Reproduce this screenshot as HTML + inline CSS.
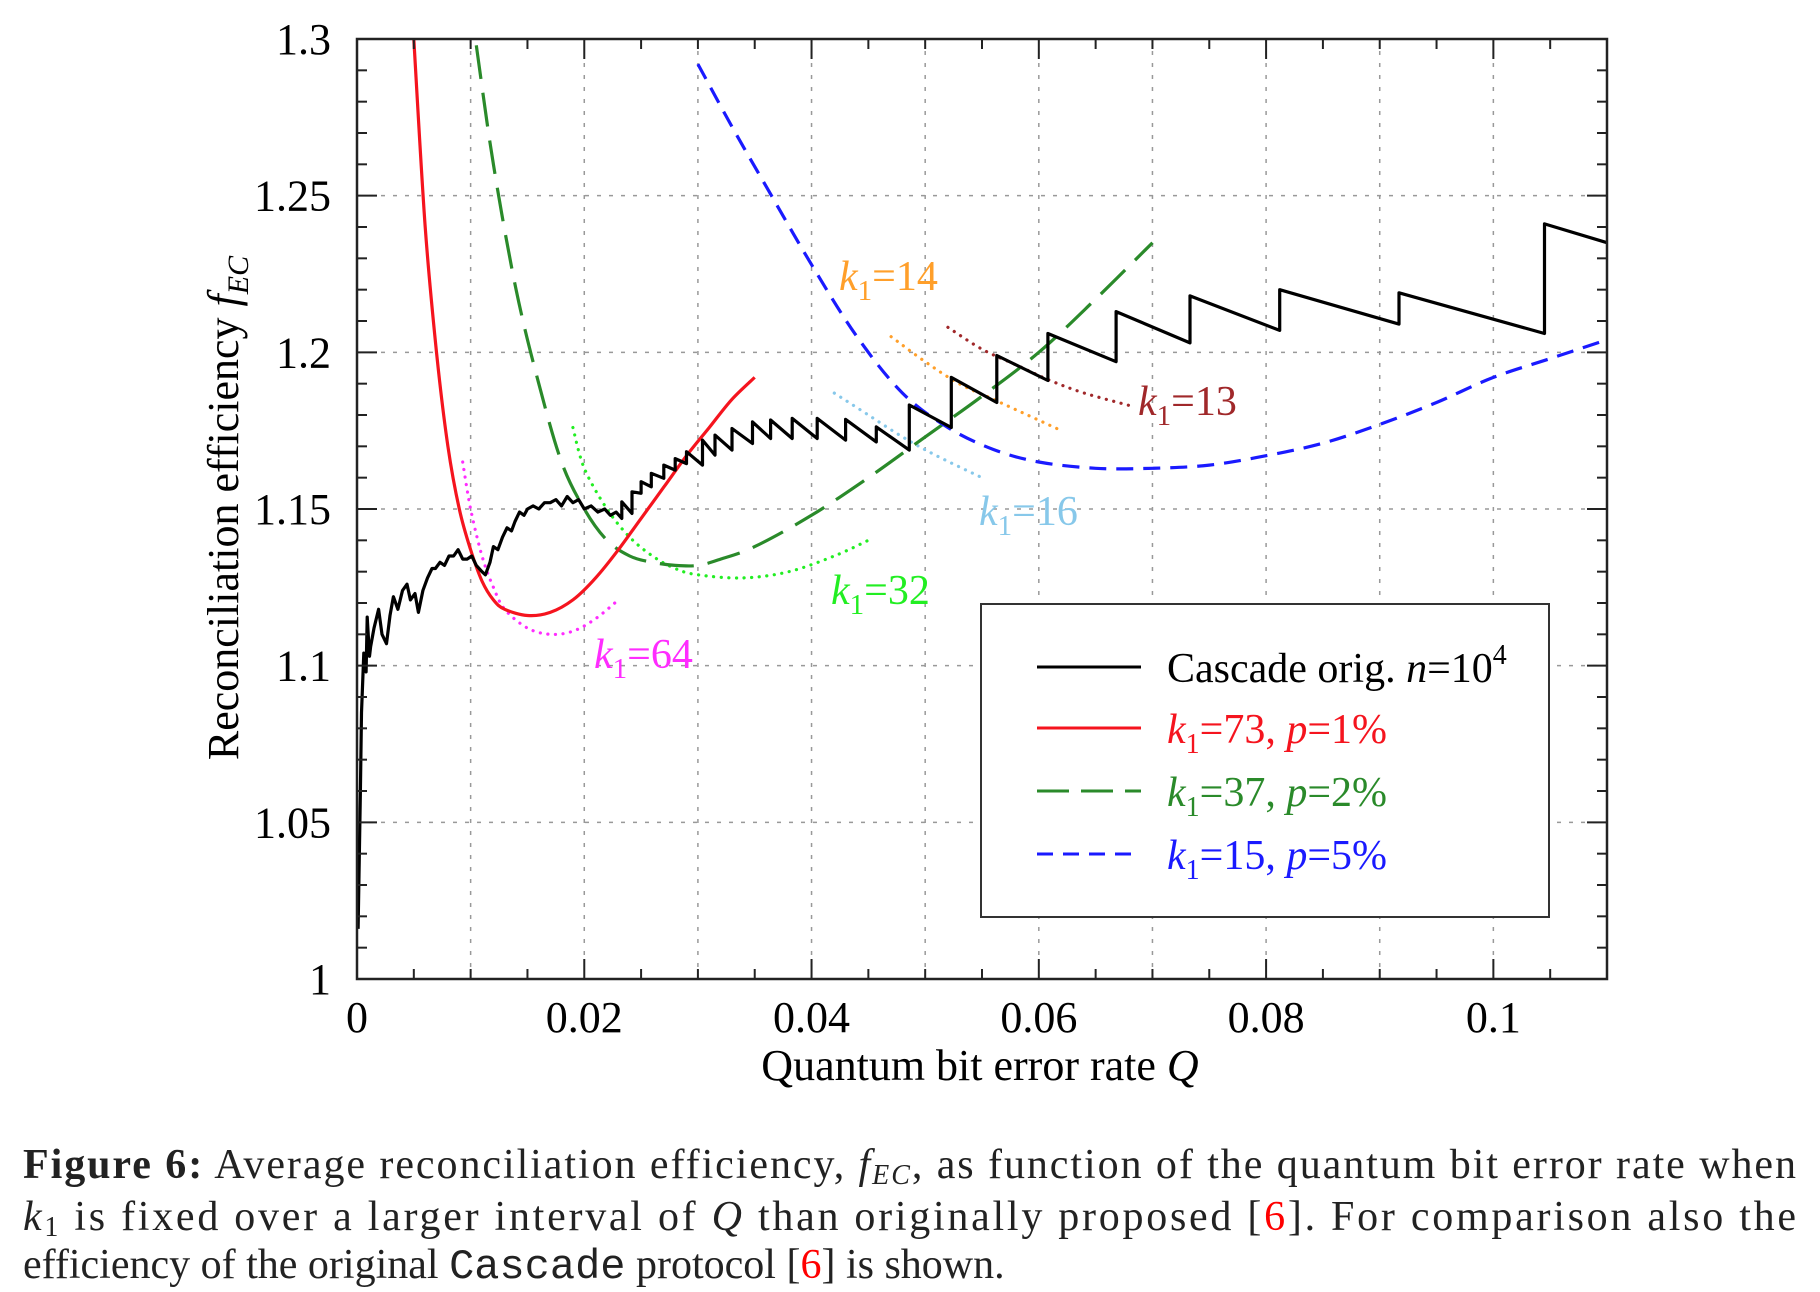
<!DOCTYPE html>
<html><head><meta charset="utf-8"><style>
html,body{margin:0;padding:0;background:#fff;}
svg{display:block;}
text{font-family:"Liberation Serif",serif;}
</style></head><body>
<svg id="chart" width="1820" height="1292" viewBox="0 0 1820 1292" xmlns="http://www.w3.org/2000/svg">
<g id="grid"></g>
<g id="series"></g>
<g id="axes"></g>
<g id="labels" font-size="42">
<text x="839" y="290" fill="#ff9f2a"><tspan font-style="italic">k</tspan><tspan font-size="29" dy="10">1</tspan><tspan dy="-10">=14</tspan></text>
<text x="1138" y="415" fill="#a0282a"><tspan font-style="italic">k</tspan><tspan font-size="29" dy="10">1</tspan><tspan dy="-10">=13</tspan></text>
<text x="979" y="525" fill="#87c8ea"><tspan font-style="italic">k</tspan><tspan font-size="29" dy="10">1</tspan><tspan dy="-10">=16</tspan></text>
<text x="831" y="604" fill="#22ee22"><tspan font-style="italic">k</tspan><tspan font-size="29" dy="10">1</tspan><tspan dy="-10">=32</tspan></text>
<text x="594" y="668" fill="#ff2cff"><tspan font-style="italic">k</tspan><tspan font-size="29" dy="10">1</tspan><tspan dy="-10">=64</tspan></text>
</g>
<g id="legend">
<rect x="981" y="604" width="568" height="313" fill="#fff" stroke="#333" stroke-width="2"/>
<line x1="1037" y1="667" x2="1141" y2="667" stroke="#000" stroke-width="3"/>
<line x1="1037" y1="728" x2="1141" y2="728" stroke="#f5141e" stroke-width="3"/>
<line x1="1037" y1="791" x2="1141" y2="791" stroke="#2a8a2a" stroke-width="3" stroke-dasharray="32,12"/>
<line x1="1037" y1="854" x2="1141" y2="854" stroke="#1a1aff" stroke-width="3" stroke-dasharray="16,10"/>
<text x="1167" y="682" font-size="42" fill="#000">Cascade orig. <tspan font-style="italic">n</tspan>=10<tspan font-size="28" dy="-18">4</tspan></text>
<text x="1167" y="743" font-size="42" fill="#f5141e"><tspan font-style="italic">k</tspan><tspan font-size="28" dy="10">1</tspan><tspan dy="-10">=73, </tspan><tspan font-style="italic">p</tspan>=1%</text>
<text x="1167" y="806" font-size="42" fill="#2a8a2a"><tspan font-style="italic">k</tspan><tspan font-size="28" dy="10">1</tspan><tspan dy="-10">=37, </tspan><tspan font-style="italic">p</tspan>=2%</text>
<text x="1167" y="869" font-size="42" fill="#1a1aff"><tspan font-style="italic">k</tspan><tspan font-size="28" dy="10">1</tspan><tspan dy="-10">=15, </tspan><tspan font-style="italic">p</tspan>=5%</text>
</g>
<text x="980" y="1080" font-size="44" text-anchor="middle">Quantum bit error rate <tspan font-style="italic">Q</tspan></text>
<text transform="translate(238,508) rotate(-90)" font-size="44" text-anchor="middle">Reconciliation efficiency <tspan font-style="italic">f</tspan><tspan font-style="italic" font-size="30" dy="10">EC</tspan></text>
<g font-size="42" fill="#222">
<text x="23" y="1178" textLength="1773" lengthAdjust="spacing"><tspan font-weight="bold">Figure 6:</tspan> Average reconciliation efficiency, <tspan font-style="italic">f</tspan><tspan font-style="italic" font-size="28" dy="6">EC</tspan><tspan dy="-6">, as function of the quantum bit error rate when</tspan></text>
<text x="23" y="1230" textLength="1773" lengthAdjust="spacing"><tspan font-style="italic">k</tspan><tspan font-size="28" dy="6">1</tspan><tspan dy="-6"> is fixed over a larger interval of </tspan><tspan font-style="italic">Q</tspan> than originally proposed [<tspan fill="#f00">6</tspan>].  For comparison also the</text>
<text x="23" y="1278">efficiency of the original <tspan font-family="Liberation Mono, monospace">Cascade</tspan> protocol [<tspan fill="#f00">6</tspan>] is shown.</text>
</g>
</svg>
<script>
// ---- data ----
const xTicks = [0, 0.02, 0.04, 0.06, 0.08, 0.1];
const xTickLabels = ["0", "0.02", "0.04", "0.06", "0.08", "0.1"];
const yTicks = [1, 1.05, 1.1, 1.15, 1.2, 1.25, 1.3];
const yTickLabels = ["1", "1.05", "1.1", "1.15", "1.2", "1.25", "1.3"];

const redQ = [0.005,0.006,0.007,0.008,0.009,0.010,0.011,0.012,0.013,0.015,0.017,0.019,0.021,0.023,0.025,0.027,0.029,0.031,0.033,0.035];
const redV = [1.3,1.24,1.2,1.17,1.15,1.137,1.127,1.121,1.118,1.116,1.117,1.121,1.128,1.137,1.147,1.157,1.167,1.176,1.185,1.192];
const greenQ = [0.0105,0.012,0.014,0.016,0.018,0.020,0.022,0.024,0.026,0.028,0.030,0.032,0.035,0.040,0.045,0.050,0.055,0.060,0.065,0.070];
const greenV = [1.298,1.26,1.22,1.19,1.165,1.150,1.140,1.135,1.133,1.132,1.132,1.134,1.138,1.148,1.160,1.173,1.186,1.200,1.217,1.235];
const blueQ = [0.030,0.033,0.036,0.040,0.044,0.048,0.052,0.056,0.060,0.065,0.070,0.075,0.080,0.085,0.090,0.095,0.100,0.105,0.110];
const blueV = [1.292,1.272,1.253,1.228,1.205,1.187,1.176,1.169,1.165,1.163,1.163,1.164,1.167,1.171,1.177,1.184,1.192,1.198,1.204];
const magQ = [0.0093,0.010,0.011,0.012,0.013,0.015,0.017,0.019,0.021,0.023];
const magV = [1.165,1.15,1.135,1.125,1.118,1.112,1.110,1.111,1.115,1.121];
const limeQ = [0.019,0.020,0.022,0.024,0.026,0.028,0.030,0.034,0.038,0.042,0.045];
const limeV = [1.176,1.163,1.150,1.141,1.135,1.131,1.129,1.128,1.130,1.135,1.140];
const lblueQ = [0.042,0.045,0.048,0.051,0.055];
const lblueV = [1.187,1.180,1.173,1.167,1.160];
const orangeQ = [0.047,0.050,0.053,0.056,0.059,0.062];
const orangeV = [1.205,1.197,1.190,1.185,1.180,1.175];
const dredQ = [0.052,0.055,0.058,0.061,0.064,0.068];
const dredV = [1.208,1.201,1.196,1.191,1.187,1.183];

const cascQ = [0.0001,0.0003,0.0004,0.0006,0.0008,0.0009,0.0011,0.0012,0.0015,0.0019,0.0022,0.0026,0.0029,0.0032,0.0036,0.0040,0.0044,0.0047,0.0051,0.0054,0.0058,0.0062,0.0066,0.0069,0.0073,0.0077,0.0081,0.0085,0.0089,0.0093,0.0097,0.0101,0.0105,0.0110,0.0113,0.0117,0.0120,0.0124,0.0128,0.0132,0.0136,0.0139,0.0143,0.0147,0.0150,0.0155,0.0160,0.0165,0.0170,0.0175,0.0180,0.0185,0.0190,0.0195,0.0200,0.0206,0.0212,0.0218,0.0223,0.0228,0.0233];
const cascV = [1.016,1.06,1.085,1.104,1.098,1.1155,1.103,1.106,1.112,1.118,1.110,1.107,1.116,1.122,1.118,1.124,1.126,1.121,1.123,1.117,1.124,1.128,1.131,1.131,1.133,1.132,1.135,1.135,1.137,1.134,1.134,1.135,1.132,1.130,1.129,1.133,1.138,1.137,1.141,1.144,1.143,1.146,1.149,1.148,1.150,1.151,1.150,1.152,1.152,1.153,1.151,1.154,1.152,1.153,1.150,1.151,1.149,1.150,1.148,1.149,1.147];
const toothQ = [0.0233,0.0242,0.0250,0.0259,0.0270,0.0280,0.0290,0.0304,0.0315,0.0330,0.0348,0.0364,0.0383,0.0405,0.0430,0.0457,0.0486,0.0523,0.0563,0.0608,0.0668,0.0733,0.0812,0.0917,0.1045];
const toothLow = [1.1470,1.1486,1.1550,1.1571,1.1598,1.1624,1.1645,1.1640,1.1672,1.1688,1.1709,1.1725,1.1725,1.1725,1.1720,1.1714,1.1688,1.176,1.184,1.191,1.197,1.203,1.207,1.209,1.206];
const toothHigh = [1.1523,1.1555,1.1587,1.1614,1.1640,1.1661,1.1683,1.1720,1.1736,1.1757,1.1778,1.1784,1.1789,1.1789,1.1786,1.1762,1.1832,1.192,1.199,1.206,1.213,1.218,1.220,1.219,1.241];
const cascEndQ = [0.110];
const cascEndV = [1.235];

// ---- axes functions ----
const L = 357, R = 1607, T = 39, B = 979;
const xMin = 0, xMax = 0.11, yMin = 1, yMax = 1.3;
function X(q){ return L + (q - xMin) / (xMax - xMin) * (R - L); }
function Y(v){ return B - (v - yMin) / (yMax - yMin) * (B - T); }
const NS = "http://www.w3.org/2000/svg";
function mk(tag, parent){ const e = document.createElementNS(NS, tag); parent.appendChild(e); return e; }

const grid = document.getElementById('grid');
const axes = document.getElementById('axes');
const series = document.getElementById('series');

for (let i = 1; i <= 10; i++) {
  const q = i * 0.01;
  const g = mk('line', grid);
  
  
  g.setAttribute('x1', X(q)); g.setAttribute('x2', X(q)); g.setAttribute('y1', T); g.setAttribute('y2', B);
  g.setAttribute('stroke', '#999'); g.setAttribute('stroke-width', '1.5'); g.setAttribute('stroke-dasharray', '4,8');
}
for (let i = 1; i < yTicks.length - 1; i++) {
  const g = mk('line', grid);
  
  
  g.setAttribute('x1', L); g.setAttribute('x2', R); g.setAttribute('y1', Y(yTicks[i])); g.setAttribute('y2', Y(yTicks[i]));
  g.setAttribute('stroke', '#999'); g.setAttribute('stroke-width', '1.5'); g.setAttribute('stroke-dasharray', '4,8');
}

function pathD(qs, vs, smooth){
  const px = qs.map(X), py = vs.map(Y);
  let d = 'M' + px[0].toFixed(1) + ',' + py[0].toFixed(1);
  for (let i = 1; i < px.length; i++) {
    if (!smooth) { d += 'L' + px[i].toFixed(1) + ',' + py[i].toFixed(1); continue; }
    const i0 = Math.max(0, i - 2), i3 = Math.min(px.length - 1, i + 1);
    const c1x = px[i-1] + (px[i] - px[i0]) / 6, c1y = py[i-1] + (py[i] - py[i0]) / 6;
    const c2x = px[i] - (px[i3] - px[i-1]) / 6, c2y = py[i] - (py[i3] - py[i-1]) / 6;
    d += 'C' + c1x.toFixed(1) + ',' + c1y.toFixed(1) + ' ' + c2x.toFixed(1) + ',' + c2y.toFixed(1) + ' ' + px[i].toFixed(1) + ',' + py[i].toFixed(1);
  }
  return d;
}
function poly(qs, vs, name, color, dash, cap, smooth){
  const p = mk('path', series);
  
  
  p.setAttribute('d', pathD(qs, vs, smooth));
  p.setAttribute('fill', 'none'); p.setAttribute('stroke', color); p.setAttribute('stroke-width', '3.2');
  p.setAttribute('stroke-linejoin', 'round');
  if (dash) p.setAttribute('stroke-dasharray', dash);
  if (cap) p.setAttribute('stroke-linecap', cap);
  return p;
}
poly(magQ, magV, 'series-k64-dotted', '#ff2cff', '0.1,7.5', 'round', true);
poly(limeQ, limeV, 'series-k32-dotted', '#22ee22', '0.1,7.5', 'round', true);
poly(lblueQ, lblueV, 'series-k16-dotted', '#87c8ea', '0.1,7.5', 'round', true);
poly(orangeQ, orangeV, 'series-k14-dotted', '#ff9f2a', '0.1,7.5', 'round', true);
poly(dredQ, dredV, 'series-k13-dotted', '#a0282a', '0.1,7.5', 'round', true);
poly(greenQ, greenV, 'series-k37-p2', '#2a8a2a', '34,14', null, true);
poly(blueQ, blueV, 'series-k15-p5', '#1a1aff', '17,10', null, true);
poly(redQ, redV, 'series-k73-p1', '#f5141e', null, null, true);
const cq = cascQ.slice(), cv = cascV.slice();
for (let i = 0; i < toothQ.length; i++) { cq.push(toothQ[i]); cv.push(toothLow[i]); cq.push(toothQ[i]); cv.push(toothHigh[i]); }
for (let i = 0; i < cascEndQ.length; i++) { cq.push(cascEndQ[i]); cv.push(cascEndV[i]); }
poly(cq, cv, 'series-cascade-original', '#000', null, null, false);

const fr = mk('rect', axes);


fr.setAttribute('x', L); fr.setAttribute('y', T); fr.setAttribute('width', R - L); fr.setAttribute('height', B - T);
fr.setAttribute('fill', 'none'); fr.setAttribute('stroke', '#222'); fr.setAttribute('stroke-width', '2.5');

function tick(x1, y1, x2, y2, name){
  const t = mk('line', axes);
  
  
  t.setAttribute('x1', x1); t.setAttribute('y1', y1); t.setAttribute('x2', x2); t.setAttribute('y2', y2);
  t.setAttribute('stroke', '#222'); t.setAttribute('stroke-width', '2');
}
for (let i = 1; i < 22; i++) {
  const q = i * 0.005; const x = X(q);
  const len = (i % 4 === 0) ? 20 : 10;
  tick(x, B, x, B - len, 'x-tick');
  tick(x, T, x, T + len, 'x-tick-top');
}
for (let i = 1; i < 30; i++) {
  const v = 1 + i * 0.01; const y = Y(v);
  const len = (i % 5 === 0) ? 20 : 10;
  tick(L, y, L + len, y, 'y-tick');
  tick(R, y, R - len, y, 'y-tick-right');
}
for (let i = 0; i < xTicks.length; i++) {
  const t = mk('text', axes);
  
  
  t.setAttribute('x', X(xTicks[i])); t.setAttribute('y', 1032);
  t.setAttribute('font-size', '44'); t.setAttribute('text-anchor', 'middle');
  t.textContent = xTickLabels[i];
}
for (let i = 0; i < yTicks.length; i++) {
  const t = mk('text', axes);
  
  
  t.setAttribute('x', 331); t.setAttribute('y', Y(yTicks[i]) + 15);
  t.setAttribute('font-size', '44'); t.setAttribute('text-anchor', 'end');
  t.textContent = yTickLabels[i];
}
</script>
</body></html>
